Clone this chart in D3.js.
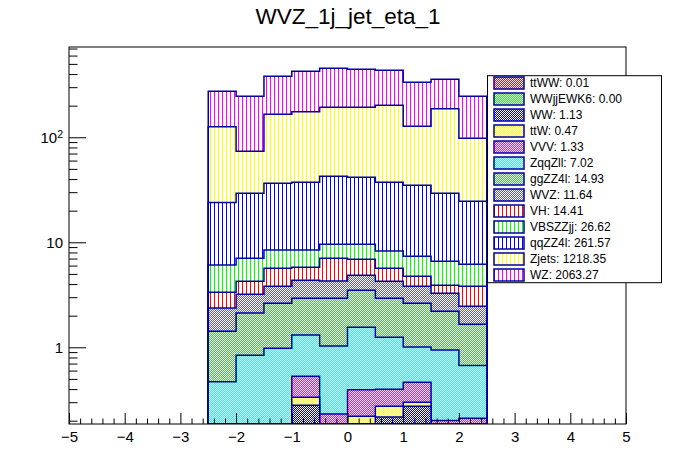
<!DOCTYPE html>
<html>
<head>
<meta charset="utf-8">
<script src="https://cdn.jsdelivr.net/npm/d3@7"></script>
<style>
  html, body { margin: 0; padding: 0; background: #fff; }
  svg { display: block; font-family: "Liberation Sans", Arial, Helvetica, sans-serif; }
</style>
</head>
<body>
<svg id="chart" width="696" height="472"></svg>
<script>
// ---------------- data ----------------
const chartTitle = "WVZ_1j_jet_eta_1";
const binEdges = [-2.5, -2, -1.5, -1, -0.5, 0, 0.5, 1, 1.5, 2, 2.5];

// stack order: bottom -> top (same as legend order)
const seriesNames = ["ttWW", "WWjjEWK6", "WW", "ttW", "VVV", "ZqqZll", "ggZZ4l", "WVZ", "VH", "VBSZZjj", "qqZZ4l", "Zjets", "WZ"];
const legendTotals = ["0.01", "0.00", "1.13", "0.47", "1.33", "7.02", "14.93", "11.64", "14.41", "26.62", "261.57", "1218.35", "2063.27"];

const ttWW     = [0.001, 0.001, 0.001, 0.001, 0.001, 0.001, 0.001, 0.001, 0.001, 0.001];
const WWjjEWK6 = [0, 0, 0, 0, 0, 0, 0, 0, 0, 0];
const WW       = [0.03, 0.03, 0.04, 0.28, 0.03, 0.02, 0.216, 0.274, 0.03, 0.03];
const ttW      = [0.01, 0.01, 0.01, 0.054, 0.02, 0.2, 0.058, 0.025, 0.02, 0.02];
const VVV      = [0.06, 0.06, 0.06, 0.195, 0.18, 0.173, 0.124, 0.165, 0.15, 0.16];
const ZqqZll   = [0.37, 0.74, 0.87, 0.78, 0.80, 1.16, 0.85, 0.54, 0.74, 0.46];
const ggZZ4l   = [0.95, 1.28, 1.64, 1.62, 1.90, 1.94, 1.69, 1.62, 1.26, 0.99];
const WVZ      = [0.95, 1.08, 1.19, 1.42, 1.35, 1.36, 1.32, 1.19, 1.07, 0.80];
const VH       = [0.97, 1.05, 1.85, 1.43, 2.76, 2.04, 1.41, 0.93, 0.63, 1.35];
const VBSZZjj  = [2.74, 2.79, 2.79, 2.67, 2.53, 2.68, 2.60, 2.62, 2.69, 2.36];
const qqZZ4l   = [17.9, 22.3, 28.0, 28.9, 32.9, 32.0, 29.0, 27.5, 22.7, 18.4];
const Zjets    = [102.2, 44.2, 129.1, 138.0, 150.6, 151.5, 164.4, 92.4, 157.9, 73.2];
const WZ       = [148, 172.5, 215, 250, 261, 251, 233, 207, 170, 148];

const seriesValues = [ttWW, WWjjEWK6, WW, ttW, VVV, ZqqZll, ggZZ4l, WVZ, VH, VBSZZjj, qqZZ4l, Zjets, WZ];
const seriesColors = ["#ff0000", "#00ff00", "#0000ff", "#ffff00", "#ff00ff", "#00ffff", "#33cc33", "#5a5ad2", "#ff0000", "#00ff00", "#0000ff", "#ffff00", "#ff00ff"];
const seriesPattern = ["checker", "checker", "checker", "checker", "checker", "checker", "checker", "checker", "vlines", "vlines", "vlines", "vlines", "vlines"];

const xMajorTicks = [-5, -4, -3, -2, -1, 0, 1, 2, 3, 4, 5];
const yMajorTicks = [1, 10, 100];
const yMinorTicks = [0.2, 0.3, 0.4, 0.5, 0.6, 0.7, 0.8, 0.9, 2, 3, 4, 5, 6, 7, 8, 9, 20, 30, 40, 50, 60, 70, 80, 90, 200, 300, 400, 500, 600, 700];
const xDomain = [-5, 5];
const yDomain = [0.186, 724];

// ---------------- layout ----------------
const frame = { left: 69, right: 626, top: 47, bottom: 424 };
const lineColor = "#0000a0";

const svg = d3.select("#chart");
const defs = svg.append("defs");
const x = d3.scaleLinear().domain(xDomain).range([frame.left, frame.right]);
const y = d3.scaleLog().domain(yDomain).range([frame.bottom, frame.top]).clamp(true);

// texture drawn with explicit 1px marks (ROOT fill styles 3001 checker / vertical hatch)
function drawTexture(g, type, color, x0, y0, x1, y1) {
  x0 = Math.floor(x0); y0 = Math.floor(y0); x1 = Math.ceil(x1); y1 = Math.ceil(y1);
  let d = "";
  if (type === "vlines") {
    for (let xx = x0; xx < x1; xx++) {
      if (((xx % 4) + 4) % 4 === 2) d += `M${xx},${y0}h1V${y1}h-1Z`;
    }
    g.append("path").attr("d", d).attr("fill", color).attr("shape-rendering", "crispEdges");
  } else {
    for (let yy = y0; yy < y1; yy++) {
      const start = x0 + ((x0 + yy) % 2 === 1 ? 0 : 1);
      d += `M${start},${yy + 0.5}H${x1}`;
    }
    g.append("path").attr("d", d).attr("fill", "none").attr("stroke", color)
      .attr("stroke-width", 1).attr("stroke-dasharray", "1 1").attr("shape-rendering", "crispEdges");
  }
}

// cumulative stacks
const cumul = [];
seriesValues.forEach((vals, i) => {
  cumul.push(vals.map((v, b) => v + (i > 0 ? cumul[i - 1][b] : 0)));
});

function histPath(c) {
  const pts = [];
  pts.push([x(binEdges[0]), frame.bottom]);
  c.forEach((v, b) => {
    const yy = y(Math.max(v, yDomain[0]));
    pts.push([x(binEdges[b]), yy]);
    pts.push([x(binEdges[b + 1]), yy]);
  });
  pts.push([x(binEdges[binEdges.length - 1]), frame.bottom]);
  return d3.line()(pts);
}

defs.append("clipPath").attr("id", "frameClip").append("rect")
  .attr("x", frame.left).attr("y", frame.top)
  .attr("width", frame.right - frame.left).attr("height", frame.bottom - frame.top);

const gHist = svg.append("g").attr("clip-path", "url(#frameClip)");
const hx0 = x(binEdges[0]), hx1 = x(binEdges[binEdges.length - 1]);
for (let i = seriesValues.length - 1; i >= 0; i--) {
  const d = histPath(cumul[i]);
  const top = Math.max(frame.top, d3.min(cumul[i], v => y(Math.max(v, yDomain[0]))));
  defs.append("clipPath").attr("id", "hclip" + i).append("path").attr("d", d);
  gHist.append("path").attr("d", d).attr("fill", "#fff").attr("stroke", "none");
  const gt = gHist.append("g").attr("clip-path", `url(#hclip${i})`);
  drawTexture(gt, seriesPattern[i], seriesColors[i], hx0, top, hx1, frame.bottom);
  gHist.append("path").attr("d", d).attr("fill", "none").attr("stroke", lineColor).attr("stroke-width", 1.5);
}

// ---------------- axes ----------------
const axisFont = 15;
svg.append("g").attr("transform", `translate(0,${frame.bottom})`)
  .call(d3.axisBottom(x).tickValues(xMajorTicks).tickSize(-11).tickSizeOuter(0).tickPadding(7));
const xMinor = d3.range(-5, 5.0001, 0.2).map(v => Math.round(v * 10) / 10).filter(v => !xMajorTicks.includes(v));
svg.append("g").attr("transform", `translate(0,${frame.bottom})`)
  .call(d3.axisBottom(x).tickValues(xMinor).tickSize(-5.5).tickSizeOuter(0).tickFormat(""));

const gy = svg.append("g").attr("transform", `translate(${frame.left},0)`);
gy.call(d3.axisLeft(y).tickValues(yMajorTicks).tickSize(-17).tickSizeOuter(0).tickPadding(6).tickFormat(d => d === 100 ? "10" : String(d)));
gy.selectAll(".tick text").filter(d => d === 100)
  .append("tspan").attr("dy", "-0.45em").attr("font-size", "0.7em").text("2");
svg.append("g").attr("transform", `translate(${frame.left},0)`)
  .call(d3.axisLeft(y).tickValues(yMinorTicks).tickSize(-8.5).tickSizeOuter(0).tickFormat(""));

svg.selectAll(".domain").remove();
svg.selectAll(".tick line").attr("stroke", "#000").attr("stroke-width", 1);
svg.selectAll(".tick text").attr("font-size", axisFont).attr("fill", "#000")
  .attr("font-family", "'Liberation Sans', Arial, Helvetica, sans-serif");

// frame
svg.append("rect").attr("x", frame.left).attr("y", frame.top)
  .attr("width", frame.right - frame.left).attr("height", frame.bottom - frame.top)
  .attr("fill", "none").attr("stroke", "#000").attr("stroke-width", 1);

// title
svg.append("text").attr("x", 348).attr("y", 24).attr("text-anchor", "middle")
  .attr("font-size", 22.5).attr("fill", "#000").text(chartTitle);

// ---------------- legend ----------------
const leg = { x0: 487.5, y0: 75.7, x1: 661.5, y1: 282.7, rowTop: 83.3, rowStep: 15.95 };
svg.append("rect").attr("x", leg.x0).attr("y", leg.y0)
  .attr("width", leg.x1 - leg.x0).attr("height", leg.y1 - leg.y0)
  .attr("fill", "#fff").attr("stroke", "#000").attr("stroke-width", 1);
seriesNames.forEach((n, i) => {
  const cy = Math.round(leg.rowTop + i * leg.rowStep);
  const sx = 494, sy = cy - 6, sw = 30, sh = 12;
  const gs = svg.append("g");
  drawTexture(gs, seriesPattern[i], seriesColors[i], sx, sy, sx + sw, sy + sh);
  gs.append("rect").attr("x", sx).attr("y", sy).attr("width", sw).attr("height", sh)
    .attr("fill", "none").attr("stroke", lineColor).attr("stroke-width", 1.5);
  svg.append("text").attr("x", 530).attr("y", cy + 4.4).attr("font-size", 12).attr("fill", "#000")
    .text(n + ": " + legendTotals[i]);
});
</script>
</body>
</html>
